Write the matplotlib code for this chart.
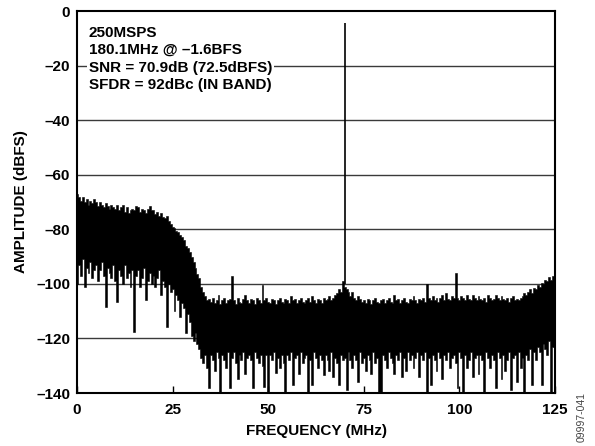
import numpy as np
import matplotlib
matplotlib.use("Agg")
import matplotlib.pyplot as plt

plt.rcParams['font.family'] = ['Liberation Sans', 'DejaVu Sans']

freq_mhz = np.arange(0, 125.5, 0.5)
upper_db = [
    -67, -68, -69.5, -68, -70, -69, -71, -69.5, -70.5, -69,
    -70, -71.5, -70, -71, -72, -70.5, -71.5, -72.5, -71, -72,
    -72.5, -71, -73, -72, -71, -73.5, -72, -74, -73, -72.5,
    -73, -71.5, -72, -73.5, -72.5, -73, -74, -72.5, -71.5, -73,
    -73, -74.5, -73.5, -75, -74, -75.5, -76, -75, -77, -78,
    -79, -79.5, -80.5, -81, -82, -83, -84, -86, -87, -88.5,
    -90, -92, -94, -96.5, -98, -101, -103, -104.5, -106, -105.5,
    -106.5, -105, -107, -106, -104, -107.5, -106, -105, -107, -106,
    -105.5, -97, -106, -107.5, -105, -106.5, -107, -105.5, -104, -106,
    -107, -105.5, -106, -107.5, -105, -106, -107, -100.5, -106, -105,
    -106.5, -107, -105.5, -106, -107.5, -106, -105, -106.5, -107, -105.5,
    -106, -107, -104.5, -106, -105.5, -107, -106, -105, -106.5, -107,
    -106, -105, -106.5, -104.5, -106, -107, -105.5, -106, -107, -105,
    -106, -105.5, -104.5, -106, -105, -104, -103.5, -102, -103, -99,
    -101, -102, -103, -104.5, -103, -105, -106, -104.5, -105.5, -106.5,
    -106, -107, -105.5, -106, -107.5, -106, -105, -106.5, -107, -106,
    -105.5, -107, -106, -105, -106.5, -107, -104, -106, -105.5, -107,
    -106, -105, -106.5, -107, -105.5, -106, -104.5, -106, -107, -105.5,
    -106, -105, -106.5, -100, -105, -106, -104.5, -106, -105, -106.5,
    -105, -104, -106, -103.5, -105.5, -106, -104.5, -105, -96, -105,
    -106, -104.5, -105, -106, -104, -105.5, -106, -104, -105, -106,
    -104.5, -105.5, -106, -105, -106.5, -104, -105, -106, -105.5, -104,
    -105, -106, -104.5, -105.5, -106, -105, -106.5, -105, -104.5, -106,
    -105.5, -106, -105, -104.5, -103.5, -104, -103, -102, -103.5, -101.5,
    -102, -100.5, -101, -99.5, -100, -98.5, -99, -97.5, -98.5, -97,
    -98,
]
lower_db = [
    -100, -93, -97, -91, -101, -94, -96, -92, -98, -95,
    -93, -99, -95, -92, -97, -108.5, -94, -96, -98, -93,
    -99, -106.5, -95, -97, -100, -93, -98, -96, -101, -95,
    -117.8, -97, -95, -101, -98, -94, -106, -99, -96, -100,
    -97, -101, -98, -95, -104, -99, -101, -115.8, -100, -103,
    -102, -110, -104, -106, -112, -107, -109, -118, -111, -114,
    -119, -121, -118, -122, -124, -127, -129, -126, -131, -138,
    -126, -128, -132, -125, -127, -139.6, -126, -128, -131, -125,
    -138, -127, -125, -129, -135, -126, -128, -125, -133, -127,
    -126, -128, -138, -125, -127, -129, -126, -130, -137.7, -126,
    -140, -126, -128, -125, -132.7, -127, -131, -126, -129, -140,
    -126, -128, -125, -137, -127, -126, -133, -125, -129, -127,
    -126, -140, -128, -137, -125, -127, -131, -126, -128, -133.4,
    -126, -128, -132, -125, -134, -127, -129, -137, -126, -128,
    -127, -139, -125, -128, -131, -126, -128, -136, -125, -129,
    -127, -132, -126, -128, -133, -125, -129, -127, -140, -140,
    -126, -128, -131, -125, -127, -129, -133, -126, -128, -125,
    -134, -127, -132, -125, -128, -126, -131, -127, -125, -134,
    -126, -128, -125, -140, -127, -137, -126, -128, -132, -125,
    -127, -135, -126, -128, -125, -131, -127, -126, -129, -138,
    -125, -127, -140, -126, -131, -128, -125, -134, -127, -126,
    -133, -126, -128, -140, -125, -127, -131, -126, -128, -138,
    -125, -127, -135, -126, -132, -128, -125, -139, -127, -126,
    -136, -125, -131, -127, -140, -126, -128, -124, -137, -125,
    -128, -123, -125, -137, -122, -124, -126, -121, -140, -123,
    -122,
]

carrier_f = 70
carrier_db = -4.5

fig = plt.figure(figsize=(5.95, 4.46), dpi=100)
ax = fig.add_axes([0.1294, 0.1188, 0.8034, 0.8565])

for y in range(-120, 0, 20):
    ax.axhline(y, color='#3a3a3a', lw=1.0, zorder=1)

ax.fill_between(freq_mhz, lower_db, upper_db, step='mid', color='black',
                lw=0.4, edgecolor='black', zorder=2)
ax.vlines([carrier_f], [-100], [carrier_db], color='black', lw=1.2, zorder=2)

ax.set_xlim(0, 125)
ax.set_ylim(-140, 0)
ax.set_xticks([0, 25, 50, 75, 100, 125])
ax.set_yticks(range(-140, 1, 20))
ax.set_yticklabels(['\u2013140', '\u2013120', '\u2013100', '\u201380', '\u201360',
                    '\u201340', '\u201320', '0'])
ax.tick_params(axis='x', direction='in', length=5, width=1, pad=7,
               labelsize=11)
ax.tick_params(axis='y', length=0, pad=5, labelsize=11)
for lab in ax.get_xticklabels() + ax.get_yticklabels():
    lab.set_fontweight('bold')
for sp in ax.spines.values():
    sp.set_linewidth(1.5)

ax.set_xlabel('FREQUENCY (MHz)', fontsize=11, fontweight='bold', labelpad=5)
ax.set_ylabel('AMPLITUDE (dBFS)', fontsize=11, fontweight='bold', labelpad=6)

ax.text(0.025, 0.962,
        '250MSPS\n180.1MHz @ \u20131.6BFS\nSNR = 70.9dB (72.5dBFS)\nSFDR = 92dBc (IN BAND)',
        transform=ax.transAxes, ha='left', va='top', fontsize=11,
        fontweight='bold', linespacing=1.32, zorder=3,
        bbox=dict(facecolor='white', edgecolor='none', pad=1.5))

fig.text(0.978, 0.01, '09997-041', rotation=90, fontsize=7.5, color='#444444',
         ha='center', va='bottom')

fig.savefig('out.png', dpi=100)
